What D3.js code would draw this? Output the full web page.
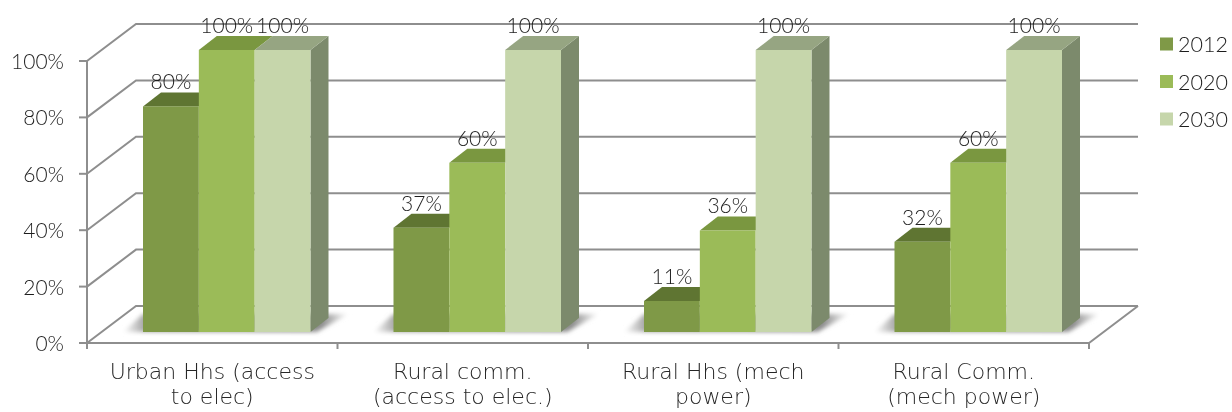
<!DOCTYPE html>
<html><head><meta charset="utf-8">
<script src="https://cdn.jsdelivr.net/npm/d3@7/dist/d3.min.js"></script>
<style>html,body{margin:0;padding:0;background:#fff}svg{display:block}
text{font-family:"DejaVu Sans";font-weight:200;fill:#262626}
text.num{font-family:Lato;font-weight:300;fill:#1f1f1f}</style></head>
<body><svg id="c" width="1232" height="412"></svg>
<script>
const categories=[["Urban Hhs (access","to elec)"],["Rural comm.","(access to elec.)"],["Rural Hhs (mech","power)"],["Rural Comm.","(mech power)"]];
const seriesNames=["2012","2020","2030"];
const values2012=[0.80,0.37,0.11,0.32];
const values2020=[1,0.60,0.36,0.60];
const values2030=[1,1,1,1];
const tickValues=[0,0.2,0.4,0.6,0.8,1];
const frontColors=["#7f9947","#9bbb59","#c6d6ab"];
const topColors=["#5f7533","#7a973f","#96a582"];
const sideColor="#7c8a6c";
const allValues=[values2012,values2020,values2030];

const svg=d3.select("#c");
const defs=svg.append("defs");
defs.append("filter").attr("id","soft").attr("x","-5%").attr("y","-5%").attr("width","110%").attr("height","110%")
  .append("feGaussianBlur").attr("stdDeviation",0.45);
defs.append("filter").attr("id","shadow").attr("x","-20%").attr("y","-50%").attr("width","140%").attr("height","200%")
  .append("feGaussianBlur").attr("stdDeviation",2);
const sg=defs.append("linearGradient").attr("id","shadowFill");
[[0,"#fff"],[0.1,"#a0a0a0"],[0.88,"#8c8c8c"],[1,"#fff"]].forEach(s=>sg.append("stop").attr("offset",s[0]).attr("stop-color",s[1]));

const xCat=d3.scaleBand().domain(d3.range(categories.length)).range([87,1089]);
const y=d3.scaleLinear().domain([0,1]).range([343,61]);
const xSer=d3.scaleBand().domain(d3.range(3)).range([0,167.5]);
const wall={dx:49,dy:-37}, barShift={dx:56,dy:-11}, depth={dx:18,dy:-14};
const line=d3.line();
const root=svg.append("g").attr("filter","url(#soft)");
const grid=root.append("g").attr("fill","none").attr("stroke","#8e8e8e").attr("stroke-width",2);

tickValues.forEach(t=>{
  const yy=y(t);
  grid.append("path").attr("d",line([[87,yy],[87+wall.dx,yy+wall.dy],[1089+wall.dx,yy+wall.dy]]));
  grid.append("path").attr("d",line([[79,yy],[87,yy]]));
});
grid.append("path").attr("d",line([[87,y(1)],[87,y(0)],[1089,y(0)],[1089+wall.dx,y(0)+wall.dy]]));
xCat.domain().concat([categories.length]).forEach(i=>{
  const xx=i<categories.length?xCat(i):xCat.range()[1];
  grid.append("path").attr("d",line([[xx,y(0)],[xx,y(0)+6]]));
});

tickValues.forEach(t=>{
  root.append("text").attr("class","num").attr("x",64).attr("y",y(t)+8).attr("text-anchor","end")
    .attr("font-size",21).text(d3.format(".0%")(t));
});

categories.forEach((c,ci)=>{
  const g=root.append("g");
  const x0=xCat(ci)+barShift.dx;
  const base=y(0)+barShift.dy;
  const x1=x0+xSer.range()[1];
  g.append("path").attr("filter","url(#shadow)").attr("fill","url(#shadowFill)")
    .attr("d",line([[x0-20,base],[x1+6,base],[x1+38,base-18],[x0,base-18]])+"Z");
  seriesNames.forEach((s,si)=>{
    const v=allValues[si][ci];
    const a=x0+xSer(si), b=a+xSer.bandwidth();
    const top=y(v)+barShift.dy;
    if(si===2){
      g.append("path").attr("fill",sideColor)
       .attr("d",line([[b,top],[b+depth.dx,top+depth.dy],[b+depth.dx,base+depth.dy],[b,base]])+"Z");
    }
    g.append("path").attr("fill",topColors[si])
     .attr("d",line([[a,top],[a+depth.dx,top+depth.dy],[b+depth.dx,top+depth.dy],[b,top]])+"Z");
    g.append("rect").attr("x",a).attr("y",top).attr("width",xSer.bandwidth()).attr("height",base-top).attr("fill",frontColors[si]);
  });
});

categories.forEach((c,ci)=>{
  const x0=xCat(ci)+barShift.dx;
  seriesNames.forEach((s,si)=>{
    const v=allValues[si][ci];
    root.append("text").attr("class","num").attr("x",x0+xSer(si)+xSer.bandwidth()/2).attr("y",y(v)+barShift.dy-17)
      .attr("text-anchor","middle").attr("font-size",21).text(d3.format(".0%")(v));
  });
  c.forEach((l,li)=>{
    root.append("text").attr("x",xCat(ci)+xCat.bandwidth()/2).attr("y",379+li*25)
      .attr("text-anchor","middle").attr("font-size",22).text(l);
  });
});

const legendY=d3.scalePoint().domain(seriesNames).range([44,119]);
seriesNames.forEach((s,i)=>{
  root.append("rect").attr("x",1160).attr("y",legendY(s)-6.5).attr("width",13).attr("height",13).attr("fill",frontColors[i]);
  root.append("text").attr("class","num").attr("x",1178).attr("y",legendY(s)+8).attr("font-size",21.5).text(s);
});
</script></body></html>
